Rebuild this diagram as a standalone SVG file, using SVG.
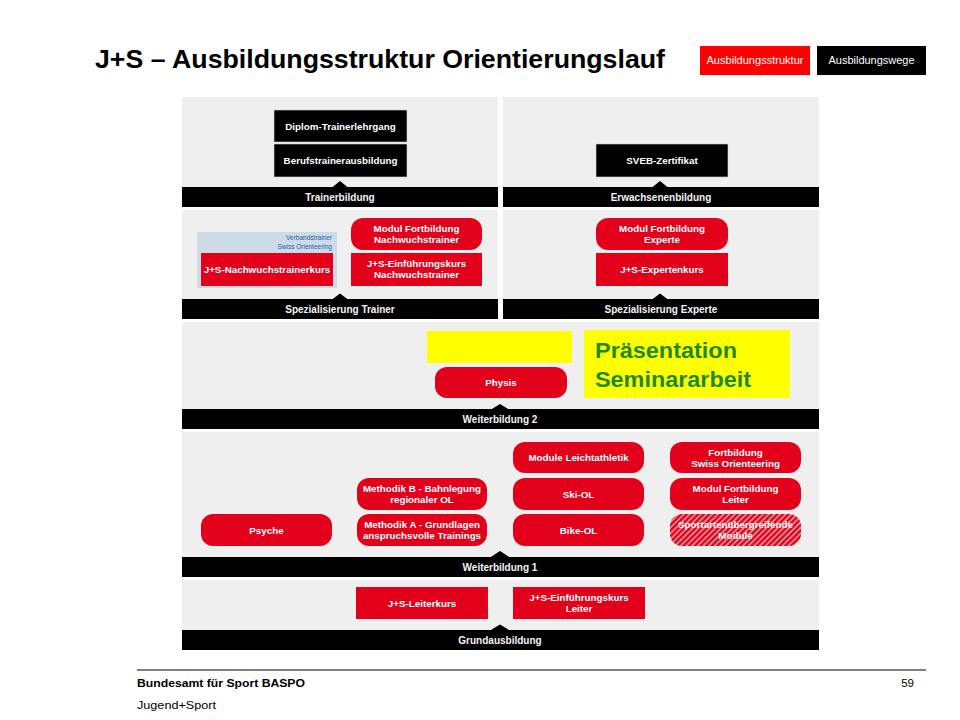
<svg xmlns="http://www.w3.org/2000/svg" width="960" height="720" viewBox="0 0 960 720">
<defs>
<style>
.panel{fill:#efefef}
.band{fill:#000}
.bandtxt{font-family:"Liberation Sans",Arial,sans-serif;font-size:10px;font-weight:bold;fill:#f4f4f4;text-anchor:middle}
.blk{fill:#000;stroke:#d8d8d8;stroke-width:0.6}
.red{fill:#e2001a}
.ntxt{font-family:"Liberation Sans",Arial,sans-serif;font-size:9.8px;font-weight:bold;fill:#fff;text-anchor:middle}
.notch{fill:#000}
</style>
<pattern id="hatch" patternUnits="userSpaceOnUse" width="4" height="4" patternTransform="rotate(45)">
<rect x="0" y="0" width="4" height="4" fill="#f5b0b4"/>
<rect x="0" y="0" width="2.6" height="4" fill="#e2001a"/>
</pattern>
</defs>
<rect x="0" y="0" width="960" height="720" fill="#fff"/>

<!-- header -->
<text x="95" y="68" font-family="'Liberation Sans',Arial,sans-serif" font-size="25" font-weight="bold" fill="#000" textLength="570" lengthAdjust="spacingAndGlyphs">J+S – Ausbildungsstruktur Orientierungslauf</text>
<g id="btn-struktur">
<rect x="700" y="46" width="110" height="29" fill="#ff0000"/>
<text x="755" y="64" font-family="'Liberation Sans',Arial,sans-serif" font-size="11" fill="#fff" text-anchor="middle" textLength="97" lengthAdjust="spacingAndGlyphs">Ausbildungsstruktur</text>
</g>
<g id="btn-wege">
<rect x="817" y="46" width="109" height="29" fill="#000"/>
<text x="871.5" y="64" font-family="'Liberation Sans',Arial,sans-serif" font-size="11" fill="#fff" text-anchor="middle" textLength="86" lengthAdjust="spacingAndGlyphs">Ausbildungswege</text>
</g>

<!-- panels -->
<rect class="panel" x="182" y="97" width="316" height="90"/>
<rect class="panel" x="503" y="97" width="316" height="90"/>
<rect class="panel" x="182" y="210" width="316" height="89"/>
<rect class="panel" x="503" y="210" width="316" height="89"/>
<rect class="panel" x="182" y="322" width="637" height="87"/>
<rect class="panel" x="182" y="432" width="637" height="125"/>
<rect class="panel" x="182" y="580" width="637" height="50"/>

<!-- bands -->
<g id="band-trainerbildung"><rect class="band" x="182" y="187" width="316" height="20"/><text class="bandtxt" x="340" y="200.5">Trainerbildung</text></g>
<g id="band-erwachsenenbildung"><rect class="band" x="503" y="187" width="316" height="20"/><text class="bandtxt" x="661" y="200.5">Erwachsenenbildung</text></g>
<g id="band-spez-trainer"><rect class="band" x="182" y="299" width="316" height="20"/><text class="bandtxt" x="340" y="312.5">Spezialisierung Trainer</text></g>
<g id="band-spez-experte"><rect class="band" x="503" y="299" width="316" height="20"/><text class="bandtxt" x="661" y="312.5">Spezialisierung Experte</text></g>
<g id="band-weiterbildung2"><rect class="band" x="182" y="409" width="637" height="20"/><text class="bandtxt" x="500" y="422.5">Weiterbildung 2</text></g>
<g id="band-weiterbildung1"><rect class="band" x="182" y="557" width="637" height="20"/><text class="bandtxt" x="500" y="570.5">Weiterbildung 1</text></g>
<g id="band-grundausbildung"><rect class="band" x="182" y="630" width="637" height="20"/><text class="bandtxt" x="500" y="643.5">Grundausbildung</text></g>

<!-- connectors (notches) -->
<g id="connectors">
<path class="notch" d="M332,187.5 L340,181 L348,187.5 Z"/>
<path class="notch" d="M652,187.5 L660,181 L668,187.5 Z"/>
<path class="notch" d="M332,299.5 L340,293.5 L348,299.5 Z"/>
<path class="notch" d="M652,299.5 L660,293.5 L668,299.5 Z"/>
<path class="notch" d="M491,409.5 L500,404 L509,409.5 Z"/>
<path class="notch" d="M490,557.5 L500,551 L510,557.5 Z"/>
<path class="notch" d="M490,630.5 L500,624.5 L510,630.5 Z"/>
</g>

<!-- top left -->
<g id="diplom"><rect class="blk" x="274" y="110" width="133" height="32"/><text class="ntxt" x="340.5" y="129.5">Diplom-Trainerlehrgang</text></g>
<g id="berufstrainer"><rect class="blk" x="274" y="144" width="133" height="33"/><text class="ntxt" x="340.5" y="164">Berufstrainerausbildung</text></g>
<g id="verbandstrainer">
<rect x="197" y="232" width="140" height="56" fill="#cddbe9"/>
<text x="332" y="240" font-family="'Liberation Sans',Arial,sans-serif" font-size="6.5" fill="#1f5fa8" text-anchor="end">Verbandstrainer</text>
<text x="332" y="249" font-family="'Liberation Sans',Arial,sans-serif" font-size="6.5" fill="#1f5fa8" text-anchor="end">Swiss Orienteering</text>
</g>
<g id="nachwuchstrainerkurs"><rect class="red" x="201" y="253" width="132" height="33"/><text class="ntxt" x="267" y="273">J+S-Nachwuchstrainerkurs</text></g>
<g id="modul-nachwuchstrainer"><rect class="red" x="351" y="218" width="131" height="32" rx="12"/><text class="ntxt" x="416.5" y="232">Modul Fortbildung</text><text class="ntxt" x="416.5" y="243">Nachwuchstrainer</text></g>
<g id="ek-nachwuchstrainer"><rect class="red" x="351" y="253" width="131" height="33" rx="0"/><text class="ntxt" x="416.5" y="267">J+S-Einführungskurs</text><text class="ntxt" x="416.5" y="278">Nachwuchstrainer</text></g>

<!-- top right -->
<g id="sveb"><rect class="blk" x="596" y="144" width="132" height="33"/><text class="ntxt" x="662" y="164">SVEB-Zertifikat</text></g>
<g id="modul-experte"><rect class="red" x="596" y="218" width="132" height="32" rx="12"/><text class="ntxt" x="662" y="232">Modul Fortbildung</text><text class="ntxt" x="662" y="243">Experte</text></g>
<g id="expertenkurs"><rect class="red" x="596" y="253" width="132" height="33"/><text class="ntxt" x="662" y="273">J+S-Expertenkurs</text></g>

<!-- middle -->
<g id="physis"><rect class="red" x="435" y="367" width="132" height="31" rx="12"/><text class="ntxt" x="501" y="386">Physis</text></g>
<g id="yellow-cover"><rect x="427" y="331" width="145" height="32" fill="#ffff00"/></g>
<g id="praesentation">
<rect x="584" y="330" width="206" height="68" fill="#ffff00"/>
<text x="595" y="358" font-family="'Liberation Sans',Arial,sans-serif" font-size="22" font-weight="bold" fill="#1f8a2a" textLength="142" lengthAdjust="spacingAndGlyphs">Präsentation</text>
<text x="595" y="387" font-family="'Liberation Sans',Arial,sans-serif" font-size="22" font-weight="bold" fill="#1f8a2a" textLength="156" lengthAdjust="spacingAndGlyphs">Seminararbeit</text>
</g>

<!-- lower -->
<g id="psyche"><rect class="red" x="201" y="514" width="131" height="32" rx="12"/><text class="ntxt" x="266.5" y="533.5">Psyche</text></g>
<g id="methodik-b"><rect class="red" x="357" y="478" width="130" height="32" rx="12"/><text class="ntxt" x="422" y="492">Methodik B - Bahnlegung</text><text class="ntxt" x="422" y="503">regionaler OL</text></g>
<g id="methodik-a"><rect class="red" x="357" y="514" width="130" height="32" rx="12"/><text class="ntxt" x="422" y="528">Methodik A - Grundlagen</text><text class="ntxt" x="422" y="539">anspruchsvolle Trainings</text></g>
<g id="leichtathletik"><rect class="red" x="513" y="442" width="131" height="31" rx="12"/><text class="ntxt" x="578.5" y="461">Module Leichtathletik</text></g>
<g id="ski-ol"><rect class="red" x="513" y="478" width="131" height="32" rx="12"/><text class="ntxt" x="578.5" y="497.5">Ski-OL</text></g>
<g id="bike-ol"><rect class="red" x="513" y="514" width="131" height="32" rx="12"/><text class="ntxt" x="578.5" y="533.5">Bike-OL</text></g>
<g id="fortbildung-so"><rect class="red" x="670" y="442" width="131" height="31" rx="12"/><text class="ntxt" x="735.5" y="455.5">Fortbildung</text><text class="ntxt" x="735.5" y="466.5">Swiss Orienteering</text></g>
<g id="modul-leiter"><rect class="red" x="670" y="478" width="131" height="32" rx="12"/><text class="ntxt" x="735.5" y="492">Modul Fortbildung</text><text class="ntxt" x="735.5" y="503">Leiter</text></g>
<g id="sportartenuebergreifend"><rect x="670" y="514" width="131" height="32" rx="12" fill="url(#hatch)"/><text class="ntxt" x="735.5" y="528">Sportartenübergreifende</text><text class="ntxt" x="735.5" y="539">Module</text></g>
<g id="leiterkurs"><rect class="red" x="356" y="587" width="132" height="32"/><text class="ntxt" x="422" y="606.5">J+S-Leiterkurs</text></g>
<g id="ek-leiter"><rect class="red" x="513" y="587" width="132" height="32"/><text class="ntxt" x="579" y="601">J+S-Einführungskurs</text><text class="ntxt" x="579" y="612">Leiter</text></g>

<!-- footer -->
<line x1="137" y1="670" x2="926" y2="670" stroke="#000" stroke-width="1"/>
<text x="137" y="687" font-family="'Liberation Sans',Arial,sans-serif" font-size="11.5" font-weight="bold" fill="#000" textLength="168" lengthAdjust="spacingAndGlyphs">Bundesamt für Sport BASPO</text>
<text x="914" y="687" font-family="'Liberation Sans',Arial,sans-serif" font-size="11.5" fill="#000" text-anchor="end">59</text>
<text x="137" y="709" font-family="'Liberation Sans',Arial,sans-serif" font-size="11.5" fill="#000" textLength="79" lengthAdjust="spacingAndGlyphs">Jugend+Sport</text>
</svg>
